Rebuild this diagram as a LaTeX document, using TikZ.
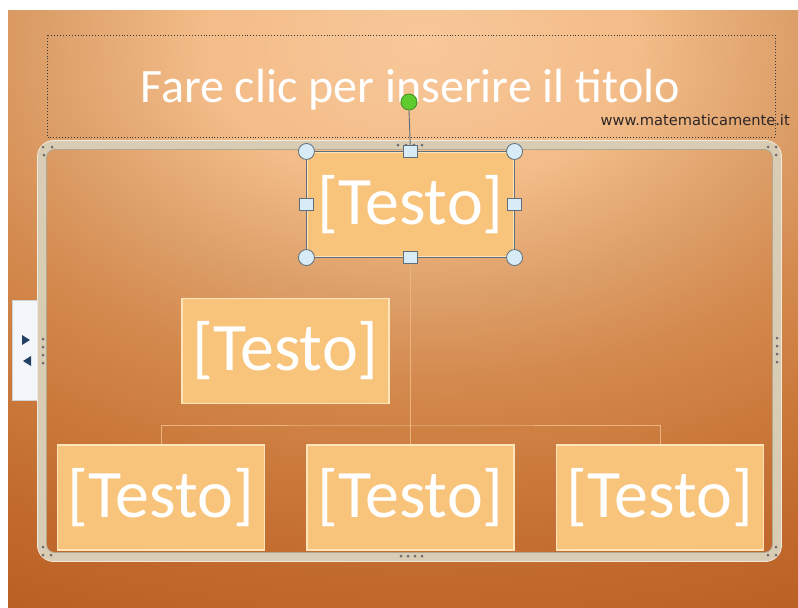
\documentclass[tikz,border=0pt]{standalone}
\usepackage{fontspec}
\setmainfont{Carlito}
\newfontfamily\webfont{DejaVu Sans}
\usetikzlibrary{positioning, calc, shapes.geometric}
\definecolor{bgA}{HTML}{F8C89A}
\definecolor{bgB}{HTML}{F3BC88}
\definecolor{bgC}{HTML}{DDA06A}
\definecolor{bgD}{HTML}{D48A4E}
\definecolor{bgE}{HTML}{CB7A3C}
\definecolor{bgF}{HTML}{C26A2E}
\definecolor{bgG}{HTML}{BA6024}
\definecolor{boxfill}{HTML}{F8C47C}
\definecolor{boxedge}{HTML}{FDE4BA}
\definecolor{linkline}{HTML}{EBB47E}
\definecolor{framecol}{HTML}{D9CCB5}
\definecolor{framehi}{HTML}{F0E9DC}
\definecolor{framelo}{HTML}{B3A68F}
\definecolor{selline}{HTML}{5E6E7A}
\definecolor{handlefill}{HTML}{D8ECF8}
\definecolor{knobgreen}{HTML}{5FCB2E}
\definecolor{knobedge}{HTML}{3F8F22}
\definecolor{grip}{HTML}{6A6A6A}
\definecolor{tabfill}{HTML}{F3F7FB}
\definecolor{tabarrow}{HTML}{233F63}
\definecolor{webtext}{HTML}{2E2626}
\definecolor{dotcol}{HTML}{3A3A3A}
\pgfdeclareradialshading{slidebg}{\pgfpoint{0bp}{0bp}}{%
  color(0bp)=(bgA); color(5.8bp)=(bgB); color(10bp)=(bgC); color(13.5bp)=(bgD);
  color(17.3bp)=(bgE); color(21.5bp)=(bgF); color(25bp)=(bgG); color(50bp)=(bgG)}
\tikzset{
  testo/.style     ={rectangle, draw=boxedge, line width=0.9pt, fill=boxfill,
                     minimum width=6.21cm, minimum height=3.15cm, inner sep=0pt,
                     text=white, font=\fontsize{58}{60}\selectfont},
  conn/.style      ={draw=linkline, line width=0.8pt},
  titlebox/.style  ={draw=dotcol, line width=0.8pt, dash pattern=on 0.8pt off 1.7pt},
  titletext/.style ={text=white, font=\fontsize{41}{44}\selectfont, inner sep=0pt, anchor=base},
  handlecirc/.style={circle, draw=selline, fill=handlefill, line width=0.7pt,
                     minimum size=0.48cm, inner sep=0pt},
  handlesq/.style  ={rectangle, draw=selline, fill=handlefill, line width=0.7pt,
                     minimum width=0.42cm, minimum height=0.36cm, inner sep=0pt},
  knob/.style      ={circle, draw=knobedge, fill=knobgreen, line width=0.7pt,
                     minimum size=0.48cm, inner sep=0pt},
  gripdot/.style   ={circle, fill=grip, minimum size=0.09cm, inner sep=0pt},
  tabbox/.style    ={rectangle, draw=gray!35, fill=tabfill, line width=0.6pt,
                     minimum width=0.78cm, minimum height=3cm, inner sep=0pt},
}
\begin{document}
\begin{tikzpicture}[x=0.03cm, y=-0.03cm]
\useasboundingbox (0,0) rectangle (798,608);
\fill[white] (0,0) rectangle (798,608);
\begin{scope}
  \clip (8,10) rectangle (798,608);
  \shade[shading=slidebg] (-510,-575) rectangle (1350,665);
\end{scope}

% title placeholder
\draw[titlebox] (47,35) rectangle (775,137);
\node[titletext] (titolo) at (410,102) {Fare clic per inserire il titolo};
\node[font=\webfont\fontsize{12.5}{14}\selectfont, text=webtext, anchor=base east, inner sep=0pt]
  (sito) at (790,125) {www.matematicamente.it};

% side tab
\node[tabbox] (linguetta) at (25,350) {};
\fill[tabarrow] (22,335) -- (30,340) -- (22,345) -- cycle;
\fill[tabarrow] (31,356) -- (23,361) -- (31,366) -- cycle;

% frame
\draw[framecol, line width=7.6pt, rounded corners=11pt] (42,145) rectangle (777,557);
\draw[framehi, line width=0.8pt, rounded corners=14pt] (37.5,140.5) rectangle (781.5,561.5);
\draw[framelo, line width=0.7pt, rounded corners=7pt] (46.5,149.5) rectangle (772.5,552.5);

% grips
\foreach \x/\y in {43/147, 52/147, 44/155, 768/147, 776/147, 776/155,
                   43/547, 43/555, 51/555, 768/555, 776/555, 776/547}
  \node[gripdot] (g-\x-\y) at (\x,\y) {};
\foreach \k in {0,1,2,3} {
  \node[gripdot] (gt\k) at (398+8*\k,145) {};
  \node[gripdot] (gb\k) at (401+7*\k,556) {};
  \node[gripdot] (gl\k) at (43,339+8*\k) {};
  \node[gripdot] (gr\k) at (777,338+8*\k) {};
}

% org chart
\node[testo] (capo)   at (410.5,204.5) {[Testo]};
\node[testo] (assist) at (285.5,351)   {[Testo]};
\node[testo] (sx)     at (161,497.5)   {[Testo]};
\node[testo] (cen)    at (410.5,497.5) {[Testo]};
\node[testo] (dx)     at (660,497.5)   {[Testo]};
\coordinate (bar) at (410.5,425);
\draw[conn] (capo.south) -- (bar);
\draw[conn] (sx.north) |- (bar) -| (dx.north);
\draw[conn] (bar) -- (cen.north);

% selection of the top box
\draw[selline, line width=0.8pt] (capo.north west) rectangle (capo.south east);
\node[knob] (rot) at (409,102) {};
\draw[selline, line width=0.8pt] (rot.south) -- (capo.north);
\foreach \a/\n in {north west/nw, north east/ne, south west/sw, south east/se}
  \node[handlecirc] (h\n) at (capo.\a) {};
\foreach \a/\n in {north/n, south/s, west/w, east/e}
  \node[handlesq] (h\n) at (capo.\a) {};
\end{tikzpicture}
\end{document}
